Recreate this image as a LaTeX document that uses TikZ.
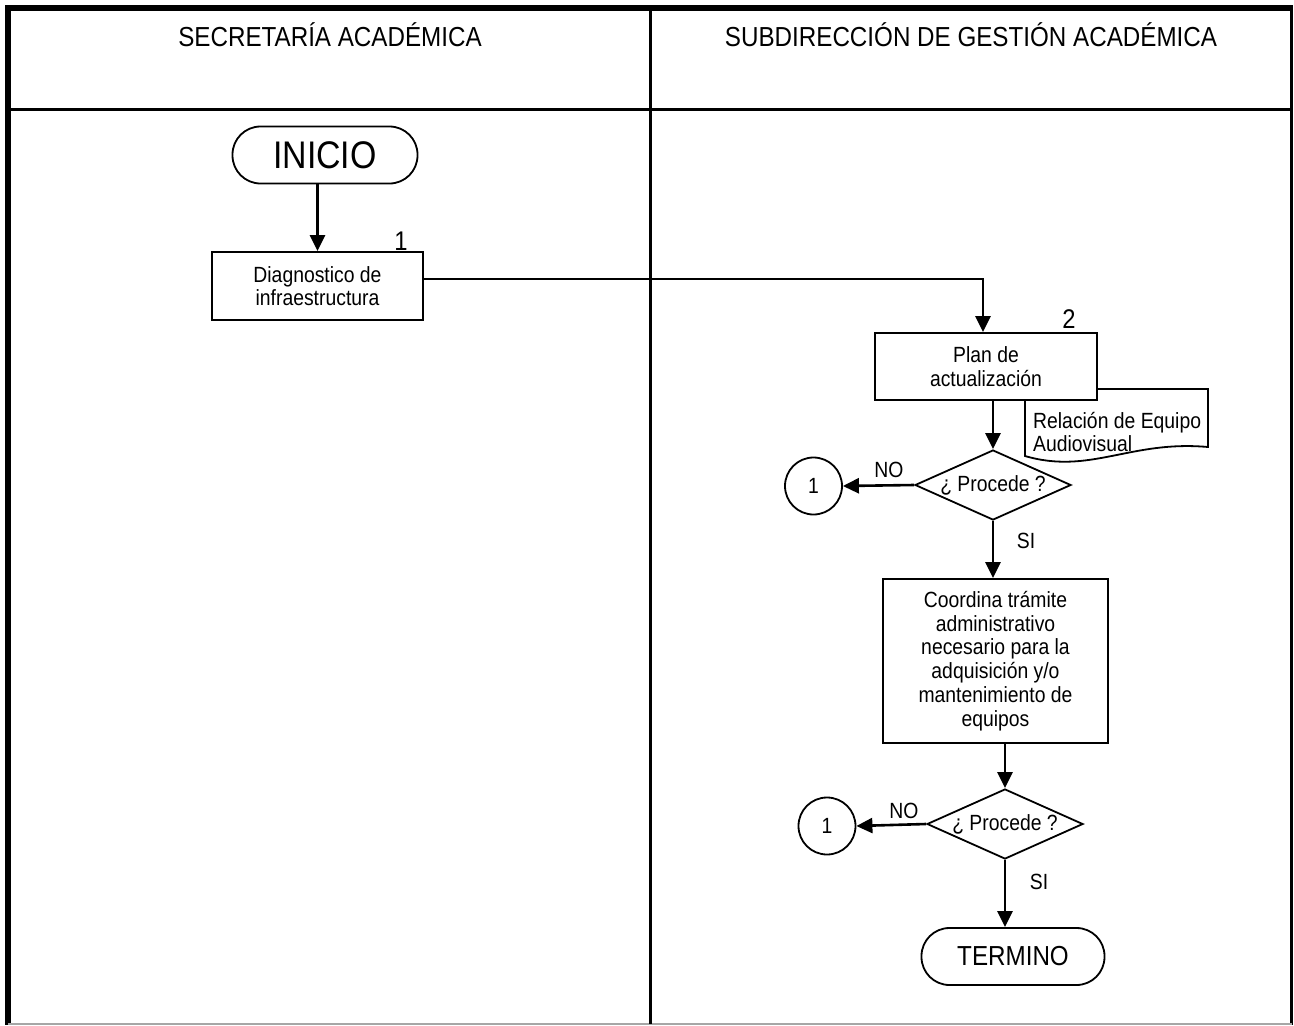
\documentclass[tikz,border=0pt]{standalone}
\usepackage{fontspec}
\setmainfont[FakeStretch=0.88]{Liberation Sans}
\usetikzlibrary{shapes.geometric,arrows.meta}
\begin{document}
\begin{tikzpicture}[x=1pt,y=-1pt,
  body/.style={font=\fontsize{22}{23.7}\selectfont},
  procbox/.style={draw,line width=1.8pt,fill=white,inner sep=0pt,align=center,body},
  termbox/.style={draw,line width=1.8pt,fill=white,inner sep=0pt,rounded corners=28pt,minimum height=57pt},
  decide/.style={draw,line width=1.8pt,fill=white,shape=diamond,aspect=2.23,inner sep=0pt,minimum width=156pt,minimum height=70pt,body},
  conn/.style={draw,line width=1.8pt,circle,minimum size=57pt,inner sep=0pt,body},
  arr/.style={line width=2.6pt,-{Triangle[length=16pt,width=15pt]}},
  lbl/.style={body,inner sep=0pt},
  numlbl/.style={font=\fontsize{27}{30}\selectfont,inner sep=0pt},
  hdr/.style={font=\fontsize{27.5}{30}\selectfont,inner sep=0pt}
]
\useasboundingbox (0,0) rectangle (1294,1026);
% frame
\draw[line width=5.5pt] (8,5) -- (8,1025);
\draw[line width=5.5pt] (5,8) -- (1293,8);
\draw[line width=2.7pt] (1291.3,8) -- (1291.3,1025);
\draw[line width=1.6pt,gray!70] (8,1024.2) -- (1292,1024.2);
\draw[line width=3pt] (8,109) -- (1291,109);
\draw[line width=3pt] (650,8) -- (650,1024);
% headers
\node[hdr] (h1) at (330,35) {SECRETARÍA ACADÉMICA};
\node[hdr] (h2) at (971,35) {SUBDIRECCIÓN DE GESTIÓN ACADÉMICA};
% left lane
\node[termbox,minimum width=185pt,font=\fontsize{38.5}{42}\selectfont] (inicio) at (325,155) {INICIO};
\node[procbox,minimum width=211pt,minimum height=68pt] (diag) at (317.5,286) {Diagnostico de\\infraestructura};
\node[numlbl] (n1) at (401,241) {1};
% right lane
\draw[line width=1.8pt,fill=white] (1025,389) -- (1208,389) -- (1208,447)
  .. controls (1130,440) and (1090,475) .. (1025,456) -- cycle;
\node[body,align=left,anchor=west,inner sep=0pt] (doc) at (1033,432) {Relación de Equipo\\Audiovisual};
\node[procbox,minimum width=222pt,minimum height=67pt] (plan) at (986,366.5) {Plan de\\actualización};
\node[numlbl] (n2) at (1069,319) {2};
\node[decide] (d1) at (993,485) {¿ Procede ?};
\node[conn] (c1) at (813.5,486) {1};
\node[lbl] (no1) at (889,470) {NO};
\node[lbl] (si1) at (1026,541) {SI};
\node[procbox,minimum width=225pt,minimum height=164pt] (coord) at (995.5,661) {Coordina trámite\\administrativo\\necesario para la\\adquisición y/o\\mantenimiento de\\equipos};
\node[decide] (d2) at (1005,824) {¿ Procede ?};
\node[conn] (c2) at (827,826) {1};
\node[lbl] (no2) at (904,811) {NO};
\node[lbl] (si2) at (1039,882) {SI};
\node[termbox,minimum width=183pt,font=\fontsize{27.5}{30}\selectfont] (term) at (1013,956.5) {TERMINO};
% connectors
\draw[arr] (diag.north |- inicio.south) -- (diag.north);
\draw[arr] ([yshift=7pt]diag.east) -| ([xshift=-3pt]plan.north);
\draw[arr] (d1.north |- plan.south) -- (d1.north);
\draw[arr] (d1.west) -- (c1.east);
\draw[arr] (d1.south) -- (d1.south |- coord.north);
\draw[arr] (d2.north |- coord.south) -- (d2.north);
\draw[arr] (d2.west) -- (c2.east);
\draw[arr] (d2.south) -- (d2.south |- term.north);
\end{tikzpicture}
\end{document}
